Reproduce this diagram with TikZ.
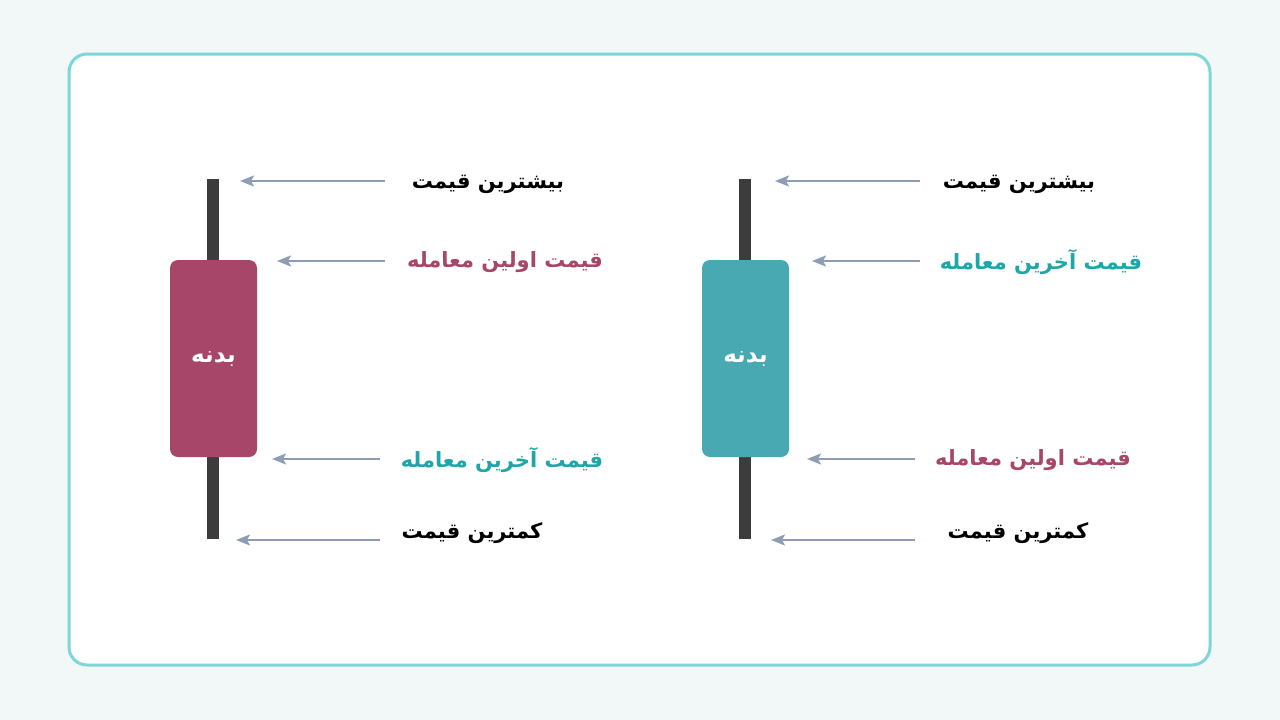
\documentclass[tikz,border=0pt]{standalone}
\usepackage{fontspec}
\TeXXeTstate=1
\newfontfamily\arabicfont[Script=Arabic]{DejaVu Sans}
\usetikzlibrary{arrows.meta}
\definecolor{bgc}{HTML}{F2F7F7}
\definecolor{cardline}{HTML}{7DD6D8}
\definecolor{crim}{HTML}{A8466A}
\definecolor{tealbody}{HTML}{49A9B3}
\definecolor{tealtxt}{HTML}{1FA6A8}
\definecolor{wick}{HTML}{3C3C3C}
\definecolor{arr}{HTML}{8C9DB5}
\tikzset{
  wickline/.style={fill=wick, draw=none},
  bodybox/.style={draw=none, rounded corners=8pt, minimum width=87pt, minimum height=197pt, inner sep=0pt, text=white, font=\arabicfont\bfseries\fontsize{23}{26}\selectfont},
  lbl/.style={inner sep=0pt, font=\arabicfont\bfseries\fontsize{21}{25}\selectfont},
  ptr/.style={draw=arr, line width=1.8pt, -{Stealth[length=14pt,width=11pt,inset=3pt]}},
}
\begin{document}
\begin{tikzpicture}[x=1pt,y=-1pt]
\fill[bgc] (0,0) rectangle (1280,720);
\useasboundingbox (0,0) rectangle (1280,720);
\draw[cardline, line width=3pt, fill=white, rounded corners=18pt] (69,54) rectangle (1210,665);
% left candle
\fill[wickline] (207,179) rectangle (219,539);
\node[bodybox, fill=crim] (lbody) at (213.5,358.5) {\beginR بدنه\endR};
% right candle
\fill[wickline] (739,179) rectangle (751,539);
\node[bodybox, fill=tealbody] (rbody) at (745.5,358.5) {\beginR بدنه\endR};
% left labels
\node[lbl, text=black] (lhigh) at (488,184) {\beginR بیشترین قیمت\endR};
\node[lbl, text=crim] (lopen) at (505,262) {\beginR قیمت اولین معامله\endR};
\node[lbl, text=tealtxt] (lclose) at (502,460) {\beginR قیمت آخرین معامله\endR};
\node[lbl, text=black] (llow) at (472,533) {\beginR کمترین قیمت\endR};
% right labels
\node[lbl, text=black] (rhigh) at (1019,184) {\beginR بیشترین قیمت\endR};
\node[lbl, text=tealtxt] (rclose) at (1041,262) {\beginR قیمت آخرین معامله\endR};
\node[lbl, text=crim] (ropen) at (1033,460) {\beginR قیمت اولین معامله\endR};
\node[lbl, text=black] (rlow) at (1018,533) {\beginR کمترین قیمت\endR};
% arrow endpoints
\coordinate (la1s) at (385,181); \coordinate (la1e) at (240,181);
\coordinate (la2s) at (385,261); \coordinate (la2e) at (277,261);
\coordinate (la3s) at (380,459); \coordinate (la3e) at (272,459);
\coordinate (la4s) at (380,540); \coordinate (la4e) at (236,540);
\coordinate (ra1s) at (920,181); \coordinate (ra1e) at (775,181);
\coordinate (ra2s) at (920,261); \coordinate (ra2e) at (812,261);
\coordinate (ra3s) at (915,459); \coordinate (ra3e) at (807,459);
\coordinate (ra4s) at (915,540); \coordinate (ra4e) at (771,540);
\foreach \a in {la1,la2,la3,la4,ra1,ra2,ra3,ra4}{
  \draw[ptr] (\a s) -- (\a e);
}
\end{tikzpicture}
\end{document}
